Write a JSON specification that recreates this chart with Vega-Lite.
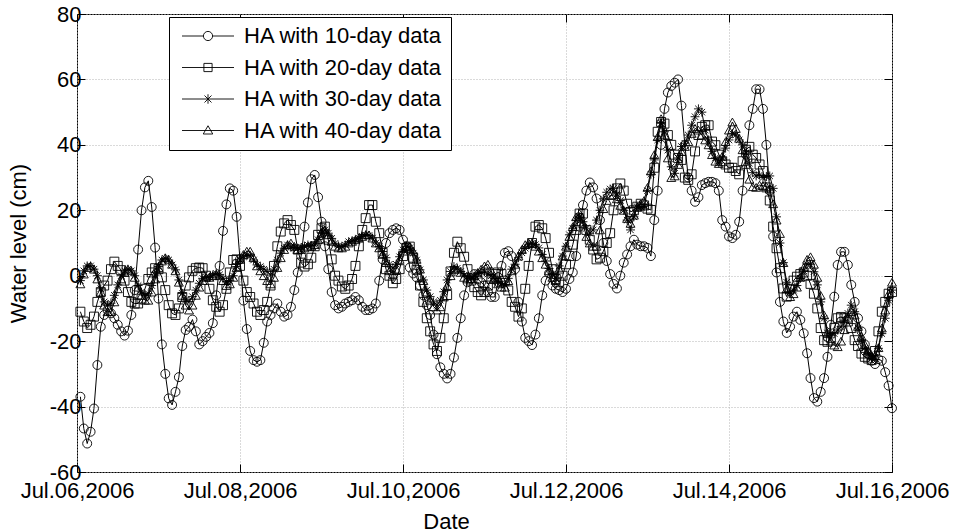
{
  "$schema": "https://vega.github.io/schema/vega-lite/v6.json",
  "width": 815,
  "height": 458,
  "autosize": {"type": "none"},
  "padding": {"left": 77, "top": 14, "right": 63, "bottom": 60},
  "background": "white",
  "config": {
    "font": "Liberation Sans",
    "view": {"stroke": "black", "strokeWidth": 1}
  },
  "data": {"values": [
{"t":"2006-07-06T01:00","c":-37,"s":-11,"a":-1.5,"g":-2.5},
{"t":"2006-07-06T02:00","c":-46.7,"s":-14,"a":1.5,"g":0.5},
{"t":"2006-07-06T03:00","c":-51.3,"s":-16,"a":3,"g":2.5},
{"t":"2006-07-06T04:00","c":-47.7,"s":-15,"a":3,"g":3},
{"t":"2006-07-06T05:00","c":-40.6,"s":-12.5,"a":2,"g":2},
{"t":"2006-07-06T06:00","c":-27.3,"s":-8,"a":0,"g":-1},
{"t":"2006-07-06T07:00","c":-15.6,"s":-5,"a":-4,"g":-5},
{"t":"2006-07-06T08:00","c":-12,"s":-3,"a":-8,"g":-9},
{"t":"2006-07-06T09:00","c":-10.5,"s":-1.5,"a":-9,"g":-11},
{"t":"2006-07-06T10:00","c":-11.5,"s":2,"a":-8.4,"g":-11},
{"t":"2006-07-06T11:00","c":-13,"s":4.3,"a":-6,"g":-8},
{"t":"2006-07-06T12:00","c":-15,"s":3,"a":-2.8,"g":-4},
{"t":"2006-07-06T13:00","c":-17,"s":1.7,"a":0,"g":-1},
{"t":"2006-07-06T14:00","c":-18.3,"s":-1.5,"a":1.5,"g":1},
{"t":"2006-07-06T15:00","c":-16.8,"s":-5,"a":2,"g":2},
{"t":"2006-07-06T16:00","c":-12,"s":-8,"a":1.5,"g":1.5},
{"t":"2006-07-06T17:00","c":-4.4,"s":-8.5,"a":0,"g":-0.5},
{"t":"2006-07-06T18:00","c":8,"s":-8.5,"a":-3,"g":-3.5},
{"t":"2006-07-06T19:00","c":20,"s":-7,"a":-5,"g":-6},
{"t":"2006-07-06T20:00","c":27,"s":-4,"a":-6,"g":-7.5},
{"t":"2006-07-06T21:00","c":29,"s":-1,"a":-5.5,"g":-7.5},
{"t":"2006-07-06T22:00","c":21,"s":1,"a":-3,"g":-5},
{"t":"2006-07-06T23:00","c":8.6,"s":2.3,"a":0.2,"g":-1},
{"t":"2006-07-07T00:00","c":-7,"s":2,"a":2.8,"g":2.5},
{"t":"2006-07-07T01:00","c":-21,"s":-0.5,"a":4.8,"g":4.5},
{"t":"2006-07-07T02:00","c":-30,"s":-4.4,"a":5.3,"g":5.5},
{"t":"2006-07-07T03:00","c":-37.5,"s":-9,"a":4.8,"g":5},
{"t":"2006-07-07T04:00","c":-39.5,"s":-11.5,"a":3.3,"g":3.5},
{"t":"2006-07-07T05:00","c":-35.5,"s":-12,"a":1.8,"g":1.5},
{"t":"2006-07-07T06:00","c":-31,"s":-10,"a":-1.3,"g":-2},
{"t":"2006-07-07T07:00","c":-21.5,"s":-6.5,"a":-5.4,"g":-6},
{"t":"2006-07-07T08:00","c":-16.6,"s":-3,"a":-7.4,"g":-9},
{"t":"2006-07-07T09:00","c":-15.6,"s":-0.5,"a":-7.9,"g":-10.5},
{"t":"2006-07-07T10:00","c":-13.4,"s":1.5,"a":-6.4,"g":-9},
{"t":"2006-07-07T11:00","c":-17,"s":2.3,"a":-4.4,"g":-6},
{"t":"2006-07-07T12:00","c":-21,"s":2.5,"a":-2.3,"g":-3.5},
{"t":"2006-07-07T13:00","c":-20,"s":2.3,"a":-0.8,"g":-1.5},
{"t":"2006-07-07T14:00","c":-18.7,"s":0,"a":-0.3,"g":-0.5},
{"t":"2006-07-07T15:00","c":-17.5,"s":-4,"a":-0.5,"g":-0.5},
{"t":"2006-07-07T16:00","c":-14.5,"s":-7.5,"a":0.2,"g":0},
{"t":"2006-07-07T17:00","c":-6,"s":-9.5,"a":0.7,"g":0.5},
{"t":"2006-07-07T18:00","c":3,"s":-11,"a":0.3,"g":0},
{"t":"2006-07-07T19:00","c":13.7,"s":-9,"a":-0.8,"g":-1.5},
{"t":"2006-07-07T20:00","c":21.8,"s":-4,"a":-1.8,"g":-3},
{"t":"2006-07-07T21:00","c":26.7,"s":1,"a":-1.5,"g":-2.5},
{"t":"2006-07-07T22:00","c":26,"s":4.8,"a":0,"g":-0.5},
{"t":"2006-07-07T23:00","c":18,"s":5,"a":2.8,"g":2.5},
{"t":"2006-07-08T00:00","c":5,"s":3,"a":4.8,"g":5},
{"t":"2006-07-08T01:00","c":-7.6,"s":-1.5,"a":5.8,"g":6.5},
{"t":"2006-07-08T02:00","c":-16.3,"s":-5,"a":6.3,"g":7.5},
{"t":"2006-07-08T03:00","c":-23,"s":-6.5,"a":6,"g":7.5},
{"t":"2006-07-08T04:00","c":-25.8,"s":-8.5,"a":4.8,"g":5.5},
{"t":"2006-07-08T05:00","c":-26.3,"s":-11,"a":3.3,"g":3},
{"t":"2006-07-08T06:00","c":-25.8,"s":-12,"a":2.8,"g":1.5},
{"t":"2006-07-08T07:00","c":-20.5,"s":-10.5,"a":2,"g":0},
{"t":"2006-07-08T08:00","c":-14,"s":-8,"a":1.3,"g":-1.5},
{"t":"2006-07-08T09:00","c":-12,"s":-3,"a":0.2,"g":-2.5},
{"t":"2006-07-08T10:00","c":-10,"s":3,"a":2,"g":-0.5},
{"t":"2006-07-08T11:00","c":-8.5,"s":9,"a":4.8,"g":2.5},
{"t":"2006-07-08T12:00","c":-11,"s":13.5,"a":6.9,"g":5.5},
{"t":"2006-07-08T13:00","c":-12.5,"s":16,"a":8.4,"g":8},
{"t":"2006-07-08T14:00","c":-12,"s":17,"a":9.4,"g":9.5},
{"t":"2006-07-08T15:00","c":-9.5,"s":15.5,"a":8.7,"g":10},
{"t":"2006-07-08T16:00","c":-4.4,"s":14,"a":8.5,"g":9},
{"t":"2006-07-08T17:00","c":1,"s":8,"a":8.4,"g":8},
{"t":"2006-07-08T18:00","c":6,"s":4,"a":8.6,"g":8},
{"t":"2006-07-08T19:00","c":15,"s":2.8,"a":9,"g":8.5},
{"t":"2006-07-08T20:00","c":22.4,"s":3.5,"a":9.4,"g":9},
{"t":"2006-07-08T21:00","c":29.5,"s":5.5,"a":9.2,"g":9},
{"t":"2006-07-08T22:00","c":30.8,"s":9,"a":9.4,"g":9.5},
{"t":"2006-07-08T23:00","c":24,"s":12.5,"a":11,"g":11},
{"t":"2006-07-09T00:00","c":16.5,"s":14.5,"a":13,"g":13},
{"t":"2006-07-09T01:00","c":9,"s":15,"a":14,"g":14},
{"t":"2006-07-09T02:00","c":2,"s":11,"a":13,"g":12.5},
{"t":"2006-07-09T03:00","c":-5,"s":5,"a":11.4,"g":10.5},
{"t":"2006-07-09T04:00","c":-9,"s":0,"a":9.9,"g":9},
{"t":"2006-07-09T05:00","c":-10,"s":-1.5,"a":9.1,"g":8.5},
{"t":"2006-07-09T06:00","c":-9.5,"s":-3.3,"a":8.9,"g":8.5},
{"t":"2006-07-09T07:00","c":-8.5,"s":-4,"a":9.4,"g":9},
{"t":"2006-07-09T08:00","c":-8,"s":-3,"a":10.4,"g":10},
{"t":"2006-07-09T09:00","c":-7.5,"s":-1,"a":10.6,"g":10.5},
{"t":"2006-07-09T10:00","c":-6.5,"s":3,"a":11,"g":11},
{"t":"2006-07-09T11:00","c":-7.5,"s":9,"a":11.5,"g":11.5},
{"t":"2006-07-09T12:00","c":-9.5,"s":14,"a":12,"g":12},
{"t":"2006-07-09T13:00","c":-10.5,"s":17.6,"a":12.5,"g":12.5},
{"t":"2006-07-09T14:00","c":-10.5,"s":21.6,"a":12.3,"g":12.5},
{"t":"2006-07-09T15:00","c":-10,"s":21.6,"a":11.5,"g":11.5},
{"t":"2006-07-09T16:00","c":-8.5,"s":16.5,"a":10,"g":10},
{"t":"2006-07-09T17:00","c":-1.5,"s":13,"a":8.9,"g":8.5},
{"t":"2006-07-09T18:00","c":5,"s":7,"a":7.4,"g":6.5},
{"t":"2006-07-09T19:00","c":10,"s":2,"a":5.5,"g":4},
{"t":"2006-07-09T20:00","c":13,"s":0,"a":3.5,"g":1.5},
{"t":"2006-07-09T21:00","c":14,"s":-2.3,"a":2.3,"g":0.5},
{"t":"2006-07-09T22:00","c":14.5,"s":-1,"a":3.5,"g":2},
{"t":"2006-07-09T23:00","c":14,"s":2,"a":5.8,"g":5},
{"t":"2006-07-10T00:00","c":11,"s":6,"a":7.9,"g":7.5},
{"t":"2006-07-10T01:00","c":9,"s":8.5,"a":8.9,"g":9},
{"t":"2006-07-10T02:00","c":2.5,"s":8.9,"a":8.5,"g":9},
{"t":"2006-07-10T03:00","c":0.7,"s":5.5,"a":6.9,"g":7.5},
{"t":"2006-07-10T04:00","c":-0.5,"s":1.8,"a":4.8,"g":5},
{"t":"2006-07-10T05:00","c":-3,"s":-3,"a":1.8,"g":2},
{"t":"2006-07-10T06:00","c":-6,"s":-8,"a":-1.3,"g":-1.5},
{"t":"2006-07-10T07:00","c":-9,"s":-13,"a":-4.4,"g":-5},
{"t":"2006-07-10T08:00","c":-12,"s":-17,"a":-6.4,"g":-7.5},
{"t":"2006-07-10T09:00","c":-18,"s":-21,"a":-8,"g":-9.5},
{"t":"2006-07-10T10:00","c":-24,"s":-23,"a":-9,"g":-10.5},
{"t":"2006-07-10T11:00","c":-28,"s":-19,"a":-7.5,"g":-9.5},
{"t":"2006-07-10T12:00","c":-30,"s":-13,"a":-4.9,"g":-6.5},
{"t":"2006-07-10T13:00","c":-31.4,"s":-5.9,"a":-1.3,"g":-3},
{"t":"2006-07-10T14:00","c":-30,"s":1.3,"a":1.3,"g":0},
{"t":"2006-07-10T15:00","c":-25,"s":7,"a":2.8,"g":2},
{"t":"2006-07-10T16:00","c":-19,"s":10.4,"a":2.3,"g":2},
{"t":"2006-07-10T17:00","c":-13,"s":8.4,"a":1.3,"g":1},
{"t":"2006-07-10T18:00","c":-6,"s":5.8,"a":0.2,"g":-0.5},
{"t":"2006-07-10T19:00","c":-2,"s":2,"a":-0.3,"g":-1},
{"t":"2006-07-10T20:00","c":-0.8,"s":-1.5,"a":-0.8,"g":-1},
{"t":"2006-07-10T21:00","c":0.5,"s":-3.5,"a":-0.3,"g":0},
{"t":"2006-07-10T22:00","c":-1,"s":-5,"a":0.7,"g":1},
{"t":"2006-07-10T23:00","c":-2,"s":-6,"a":1,"g":2},
{"t":"2006-07-11T00:00","c":-3,"s":-5,"a":1.2,"g":3},
{"t":"2006-07-11T01:00","c":-5,"s":-3,"a":0.5,"g":3.5},
{"t":"2006-07-11T02:00","c":-6.5,"s":-1,"a":0,"g":1.5},
{"t":"2006-07-11T03:00","c":-6.5,"s":0.5,"a":-1,"g":-1},
{"t":"2006-07-11T04:00","c":-2,"s":1,"a":-1.8,"g":-2.5},
{"t":"2006-07-11T05:00","c":3,"s":0.5,"a":-2.3,"g":-3.5},
{"t":"2006-07-11T06:00","c":7,"s":-1.5,"a":-2.8,"g":-3.5},
{"t":"2006-07-11T07:00","c":7.5,"s":-4.5,"a":-0.8,"g":-1.5},
{"t":"2006-07-11T08:00","c":6,"s":-8,"a":2,"g":1.5},
{"t":"2006-07-11T09:00","c":2,"s":-9.5,"a":3.5,"g":3.5},
{"t":"2006-07-11T10:00","c":-8,"s":-12.5,"a":5.5,"g":6},
{"t":"2006-07-11T11:00","c":-14,"s":-10,"a":7,"g":8},
{"t":"2006-07-11T12:00","c":-19,"s":-4,"a":8.4,"g":9.5},
{"t":"2006-07-11T13:00","c":-20,"s":3,"a":9.4,"g":10},
{"t":"2006-07-11T14:00","c":-21.2,"s":10,"a":9.9,"g":10},
{"t":"2006-07-11T15:00","c":-18,"s":15,"a":9.5,"g":9},
{"t":"2006-07-11T16:00","c":-13,"s":15.5,"a":8.5,"g":7.5},
{"t":"2006-07-11T17:00","c":-6,"s":14.5,"a":6.5,"g":5.5},
{"t":"2006-07-11T18:00","c":-1.5,"s":11.5,"a":4.5,"g":3.5},
{"t":"2006-07-11T19:00","c":0.7,"s":7,"a":2.2,"g":1.5},
{"t":"2006-07-11T20:00","c":-3,"s":2,"a":0.5,"g":-0.5},
{"t":"2006-07-11T21:00","c":-4,"s":-1,"a":-0.8,"g":-1.5},
{"t":"2006-07-11T22:00","c":-4.4,"s":-2,"a":3,"g":2},
{"t":"2006-07-11T23:00","c":-5,"s":0,"a":6,"g":6},
{"t":"2006-07-12T00:00","c":-4,"s":3.5,"a":9,"g":9},
{"t":"2006-07-12T01:00","c":-1,"s":6,"a":12.5,"g":12},
{"t":"2006-07-12T02:00","c":1,"s":9.5,"a":14.5,"g":15},
{"t":"2006-07-12T03:00","c":6,"s":14,"a":17,"g":18},
{"t":"2006-07-12T04:00","c":15,"s":19,"a":18,"g":19},
{"t":"2006-07-12T05:00","c":21.6,"s":19,"a":16.5,"g":16},
{"t":"2006-07-12T06:00","c":26,"s":14,"a":14.5,"g":12},
{"t":"2006-07-12T07:00","c":28.5,"s":11,"a":13,"g":10},
{"t":"2006-07-12T08:00","c":27,"s":8,"a":14,"g":9},
{"t":"2006-07-12T09:00","c":23.6,"s":5,"a":17,"g":9},
{"t":"2006-07-12T10:00","c":17,"s":5.5,"a":20,"g":14},
{"t":"2006-07-12T11:00","c":10,"s":7.5,"a":23.5,"g":20.5},
{"t":"2006-07-12T12:00","c":4.5,"s":10,"a":25.5,"g":23},
{"t":"2006-07-12T13:00","c":0.5,"s":13,"a":26.5,"g":24.5},
{"t":"2006-07-12T14:00","c":-2.5,"s":20,"a":26.7,"g":24.7},
{"t":"2006-07-12T15:00","c":-3.9,"s":26.7,"a":25,"g":23.5},
{"t":"2006-07-12T16:00","c":0,"s":28.2,"a":23,"g":21.5},
{"t":"2006-07-12T17:00","c":4,"s":26,"a":20,"g":20},
{"t":"2006-07-12T18:00","c":6.5,"s":22,"a":17,"g":17.5},
{"t":"2006-07-12T19:00","c":9,"s":19.5,"a":14,"g":16},
{"t":"2006-07-12T20:00","c":11,"s":20,"a":18,"g":18.5},
{"t":"2006-07-12T21:00","c":9.5,"s":21.1,"a":21,"g":21},
{"t":"2006-07-12T22:00","c":9,"s":22,"a":21.1,"g":22},
{"t":"2006-07-12T23:00","c":9,"s":21.5,"a":21.1,"g":23},
{"t":"2006-07-13T00:00","c":8.5,"s":20.5,"a":26,"g":27},
{"t":"2006-07-13T01:00","c":6,"s":20.1,"a":31,"g":32},
{"t":"2006-07-13T02:00","c":17,"s":33,"a":35.4,"g":37},
{"t":"2006-07-13T03:00","c":26,"s":44,"a":41.5,"g":42.5},
{"t":"2006-07-13T04:00","c":40,"s":47,"a":46.6,"g":48},
{"t":"2006-07-13T05:00","c":51,"s":46.5,"a":44,"g":43},
{"t":"2006-07-13T06:00","c":56,"s":43,"a":38.4,"g":36},
{"t":"2006-07-13T07:00","c":58,"s":40,"a":33.3,"g":30},
{"t":"2006-07-13T08:00","c":59,"s":37,"a":31.3,"g":30.5},
{"t":"2006-07-13T09:00","c":60,"s":36,"a":36,"g":34},
{"t":"2006-07-13T10:00","c":52,"s":35.4,"a":39.5,"g":38},
{"t":"2006-07-13T11:00","c":40,"s":30,"a":40.5,"g":39.5},
{"t":"2006-07-13T12:00","c":30,"s":29.3,"a":43,"g":41},
{"t":"2006-07-13T13:00","c":26,"s":31,"a":46,"g":43.5},
{"t":"2006-07-13T14:00","c":22.6,"s":38,"a":48.6,"g":45},
{"t":"2006-07-13T15:00","c":24,"s":43,"a":51,"g":44.5},
{"t":"2006-07-13T16:00","c":27.7,"s":45.5,"a":50,"g":43},
{"t":"2006-07-13T17:00","c":28.3,"s":46,"a":44.5,"g":41.5},
{"t":"2006-07-13T18:00","c":28.7,"s":46,"a":41.5,"g":40},
{"t":"2006-07-13T19:00","c":28.7,"s":41,"a":38,"g":37},
{"t":"2006-07-13T20:00","c":28.3,"s":39.9,"a":36,"g":35},
{"t":"2006-07-13T21:00","c":26,"s":37,"a":34.4,"g":34.3},
{"t":"2006-07-13T22:00","c":17,"s":35,"a":36,"g":36.5},
{"t":"2006-07-13T23:00","c":15,"s":34,"a":39,"g":41},
{"t":"2006-07-14T00:00","c":12,"s":33,"a":41.5,"g":44.5},
{"t":"2006-07-14T01:00","c":11.5,"s":33,"a":43.5,"g":47},
{"t":"2006-07-14T02:00","c":12.5,"s":32,"a":43,"g":45},
{"t":"2006-07-14T03:00","c":16.5,"s":31,"a":41.5,"g":42},
{"t":"2006-07-14T04:00","c":26,"s":35,"a":40,"g":38.5},
{"t":"2006-07-14T05:00","c":37,"s":38.5,"a":37.5,"g":34},
{"t":"2006-07-14T06:00","c":46,"s":39.4,"a":34.4,"g":29.5},
{"t":"2006-07-14T07:00","c":51,"s":37,"a":31.5,"g":27.2},
{"t":"2006-07-14T08:00","c":57,"s":36,"a":30.5,"g":27},
{"t":"2006-07-14T09:00","c":57,"s":34,"a":30.8,"g":27.7},
{"t":"2006-07-14T10:00","c":51,"s":32,"a":30,"g":27.5},
{"t":"2006-07-14T11:00","c":40,"s":27,"a":30.3,"g":27.3},
{"t":"2006-07-14T12:00","c":26,"s":23,"a":30.5,"g":26.5},
{"t":"2006-07-14T13:00","c":12,"s":15,"a":26.7,"g":22},
{"t":"2006-07-14T14:00","c":1,"s":8.4,"a":18,"g":17},
{"t":"2006-07-14T15:00","c":-8,"s":2.3,"a":10,"g":12.9},
{"t":"2006-07-14T16:00","c":-14,"s":-3.9,"a":4,"g":4},
{"t":"2006-07-14T17:00","c":-17.5,"s":-6.4,"a":-2,"g":-4},
{"t":"2006-07-14T18:00","c":-15.6,"s":-4,"a":-4.9,"g":-6.4},
{"t":"2006-07-14T19:00","c":-12.5,"s":-1.5,"a":-4.4,"g":-5.5},
{"t":"2006-07-14T20:00","c":-11,"s":-0.3,"a":-3,"g":-3.5},
{"t":"2006-07-14T21:00","c":-13.5,"s":0.5,"a":-0.8,"g":-0.5},
{"t":"2006-07-14T22:00","c":-17.6,"s":1,"a":1.5,"g":2.5},
{"t":"2006-07-14T23:00","c":-23.7,"s":0,"a":3.5,"g":5},
{"t":"2006-07-15T00:00","c":-31.3,"s":-2.5,"a":3.5,"g":5.8},
{"t":"2006-07-15T01:00","c":-37.4,"s":-5.5,"a":1.2,"g":3.5},
{"t":"2006-07-15T02:00","c":-38.5,"s":-10,"a":-2.8,"g":-0.5},
{"t":"2006-07-15T03:00","c":-35.5,"s":-16,"a":-8,"g":-6},
{"t":"2006-07-15T04:00","c":-31.3,"s":-19.7,"a":-13,"g":-12},
{"t":"2006-07-15T05:00","c":-24.8,"s":-20.2,"a":-17.5,"g":-17.5},
{"t":"2006-07-15T06:00","c":-15,"s":-19,"a":-18.2,"g":-20},
{"t":"2006-07-15T07:00","c":-6.4,"s":-16,"a":-17.7,"g":-21.2},
{"t":"2006-07-15T08:00","c":3.3,"s":-13,"a":-16.6,"g":-21.7},
{"t":"2006-07-15T09:00","c":7.3,"s":-12.6,"a":-15.6,"g":-20},
{"t":"2006-07-15T10:00","c":7.3,"s":-13,"a":-13.6,"g":-16.5},
{"t":"2006-07-15T11:00","c":3.3,"s":-14,"a":-11.5,"g":-13},
{"t":"2006-07-15T12:00","c":-2.8,"s":-16,"a":-9,"g":-11},
{"t":"2006-07-15T13:00","c":-8,"s":-19.7,"a":-11,"g":-12},
{"t":"2006-07-15T14:00","c":-13,"s":-21.5,"a":-16,"g":-15.5},
{"t":"2006-07-15T15:00","c":-17,"s":-23.8,"a":-19.7,"g":-18.5},
{"t":"2006-07-15T16:00","c":-21,"s":-24.8,"a":-22.2,"g":-21},
{"t":"2006-07-15T17:00","c":-24,"s":-25.3,"a":-23.8,"g":-23},
{"t":"2006-07-15T18:00","c":-26,"s":-25.8,"a":-25.3,"g":-24.5},
{"t":"2006-07-15T19:00","c":-27,"s":-23,"a":-24.8,"g":-24.5},
{"t":"2006-07-15T20:00","c":-25.5,"s":-17,"a":-22.2,"g":-22},
{"t":"2006-07-15T21:00","c":-26,"s":-11,"a":-17.7,"g":-16},
{"t":"2006-07-15T22:00","c":-29.5,"s":-8,"a":-13,"g":-10.5},
{"t":"2006-07-15T23:00","c":-33.6,"s":-5.5,"a":-7.5,"g":-5.5},
{"t":"2006-07-16T00:00","c":-40.5,"s":-5,"a":-4.4,"g":-2}
  ]},
  "transform": [{"fold": ["c", "s", "a", "g"], "as": ["series", "level"]}],
  "layer": [
    {
      "mark": {"type": "line", "stroke": "black", "strokeWidth": 1},
      "encoding": {
        "x": {
          "field": "t", "type": "temporal",
          "scale": {"domain": [{"year": 2006, "month": 7, "date": 6}, {"year": 2006, "month": 7, "date": 16}]},
          "axis": {
            "orient": "bottom",
            "values": [{"year": 2006, "month": 7, "date": 6}, {"year": 2006, "month": 7, "date": 8}, {"year": 2006, "month": 7, "date": 10}, {"year": 2006, "month": 7, "date": 12}, {"year": 2006, "month": 7, "date": 14}, {"year": 2006, "month": 7, "date": 16}],
            "format": "%b.%d,%Y",
            "labelFlush": false, "labelOverlap": false,
            "labelFontSize": 22, "labelColor": "black", "labelPadding": 16,
            "tickSize": -8, "tickColor": "black", "tickWidth": 1,
            "domain": false,
            "grid": true, "gridColor": "#b4b4b4", "gridDash": [1, 2], "gridWidth": 1,
            "title": "Date", "titleFontSize": 22, "titleFontWeight": "normal", "titleColor": "black",
            "titleX": 369, "titleY": 56, "titleBaseline": "alphabetic", "titleAlign": "center"
          }
        },
        "y": {
          "field": "level", "type": "quantitative",
          "scale": {"domain": [-60, 80], "nice": false, "zero": false},
          "axis": {
            "orient": "left",
            "values": [-60, -40, -20, 0, 20, 40, 60, 80],
            "labelExpr": "datum.value + ''",
            "labelFontSize": 22, "labelColor": "black", "labelPadding": 4,
            "tickSize": -8, "tickColor": "black", "tickWidth": 1,
            "domain": false,
            "grid": true, "gridColor": "#b4b4b4", "gridDash": [1, 2], "gridWidth": 1,
            "title": "Water level (cm)", "titleFontSize": 22, "titleFontWeight": "normal", "titleColor": "black",
            "titleX": -59, "titleY": 229, "titleAngle": -90, "titleAlign": "center", "titleBaseline": "middle"
          }
        },
        "detail": {"field": "series", "type": "nominal"}
      }
    },
    {
      "mark": {"type": "point", "filled": false, "stroke": "black", "strokeWidth": 0.9, "size": 80, "opacity": 1},
      "encoding": {
        "x": {
          "field": "t", "type": "temporal",
          "axis": {
            "orient": "top",
            "values": [{"year": 2006, "month": 7, "date": 6}, {"year": 2006, "month": 7, "date": 8}, {"year": 2006, "month": 7, "date": 10}, {"year": 2006, "month": 7, "date": 12}, {"year": 2006, "month": 7, "date": 14}, {"year": 2006, "month": 7, "date": 16}],
            "labels": false, "title": null, "domain": false, "grid": false,
            "tickSize": -8, "tickColor": "black", "tickWidth": 1
          }
        },
        "y": {
          "field": "level", "type": "quantitative",
          "axis": {
            "orient": "right",
            "values": [-60, -40, -20, 0, 20, 40, 60, 80],
            "labels": false, "title": null, "domain": false, "grid": false,
            "tickSize": -8, "tickColor": "black", "tickWidth": 1
          }
        },
        "shape": {
          "field": "series", "type": "nominal",
          "scale": {
            "domain": ["c", "s", "a", "g"],
            "range": ["circle", "square", "M-1,0L1,0M0,-1L0,1M-0.72,-0.72L0.72,0.72M-0.72,0.72L0.72,-0.72", "triangle-up"]
          },
          "legend": null
        }
      }
    },
    {
      "transform": [{"filter": "datum.t === '2006-07-06T01:00'"}],
      "mark": {"type": "point", "filled": false, "stroke": "black", "strokeWidth": 0.9, "size": 100, "opacity": 0},
      "encoding": {
        "x": {"field": "t", "type": "temporal", "axis": null},
        "y": {"field": "level", "type": "quantitative", "axis": null},
        "shape": {
          "field": "series", "type": "nominal",
          "scale": {
            "domain": ["c", "s", "a", "g"],
            "range": [
              "M-5.2,0L-0.92,0M0.92,0L5.2,0M0.92,0A0.92,0.92,0,1,1,-0.92,0A0.92,0.92,0,1,1,0.92,0",
              "M-5.2,0L5.2,0M-0.82,-0.82L0.82,-0.82L0.82,0.82L-0.82,0.82Z",
              "M-5.2,0L5.2,0M0,-0.95L0,0.95M-0.7,-0.7L0.7,0.7M-0.7,0.7L0.7,-0.7",
              "M-5.2,0L5.2,0M0,-0.95L0.95,0.7L-0.95,0.7Z"
            ]
          },
          "legend": {
            "orient": "none", "legendX": 92, "legendY": 3,
            "title": null,
            "padding": 8, "strokeColor": "black", "fillColor": "white", "cornerRadius": 0,
            "symbolSize": 100, "symbolOffset": 20, "labelOffset": 25,
            "symbolOpacity": 1,
            "symbolStrokeColor": "black", "symbolStrokeWidth": 0.9, "symbolFillColor": "transparent",
            "rowPadding": 9.5,
            "labelFontSize": 22, "labelColor": "black", "labelLimit": 400,
            "labelExpr": "datum.value === 'c' ? '\u00a0HA with 10-day data\u00a0' : datum.value === 's' ? 'HA with 20-day data' : datum.value === 'a' ? 'HA with 30-day data' : 'HA with 40-day data'"
          }
        }
      }
    }
  ],
  "resolve": {"axis": {"x": "independent", "y": "independent"}, "scale": {"shape": "independent"}}
}
